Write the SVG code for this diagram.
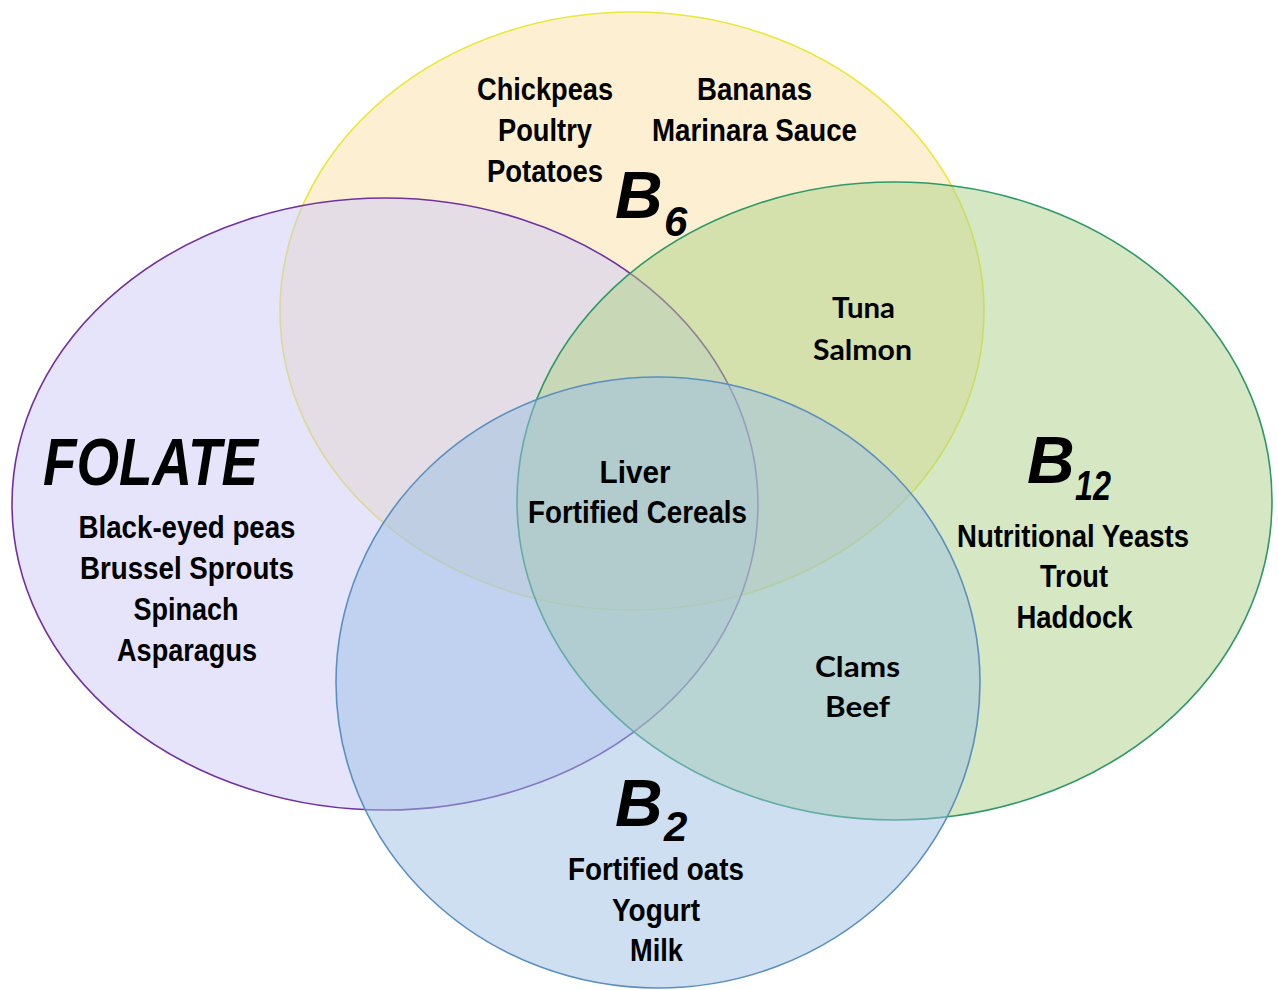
<svg xmlns="http://www.w3.org/2000/svg" width="1278" height="990" viewBox="0 0 1278 990">
<style>
.set { fill-opacity: 0.5; stroke-width: 1.6; }
.lbl { font-family: "Liberation Sans", Arial, sans-serif; font-weight: bold; font-size: 32px; fill: #000; text-anchor: middle; }
.cal { font-family: Lato, "Open Sans", sans-serif; font-weight: bold; font-size: 29px; fill: #000; text-anchor: middle; }
.big { font-family: "Liberation Sans", Arial, sans-serif; font-weight: bold; font-style: italic; font-size: 66px; fill: #000; }
.sub { font-family: "Liberation Sans", Arial, sans-serif; font-weight: bold; font-style: italic; font-size: 42px; fill: #000; }
</style>
<rect width="1278" height="990" fill="#ffffff"/>
<g id="node-b6">
  <ellipse class="set" cx="632" cy="311" rx="352" ry="299" fill="#fbe1a5" stroke="#e8e83c"/>
</g>
<g id="node-folate">
  <ellipse class="set" cx="385" cy="504" rx="373" ry="306" fill="#cbc9f7" stroke="#7030a0"/>
</g>
<g id="node-b12">
  <ellipse class="set" cx="894.5" cy="501" rx="377.5" ry="319" fill="#abd187" stroke="#2e9966"/>
</g>
<g id="node-b2">
  <ellipse class="set" cx="658" cy="682.5" rx="322" ry="305.5" fill="#9bbfe3" stroke="#5b8fbf"/>
</g>
<g id="labels-b6">
  <text class="lbl" x="545" y="100" textLength="136" lengthAdjust="spacingAndGlyphs">Chickpeas</text>
  <text class="lbl" x="545" y="141" textLength="94" lengthAdjust="spacingAndGlyphs">Poultry</text>
  <text class="lbl" x="545" y="182" textLength="116" lengthAdjust="spacingAndGlyphs">Potatoes</text>
  <text class="lbl" x="754.5" y="100" textLength="115" lengthAdjust="spacingAndGlyphs">Bananas</text>
  <text class="lbl" x="754.5" y="141" textLength="205" lengthAdjust="spacingAndGlyphs">Marinara Sauce</text>
  <text class="big" x="615" y="218">B</text>
  <text class="sub" x="664" y="236">6</text>
</g>
<g id="labels-folate">
  <text class="big" x="43" y="485" textLength="215" lengthAdjust="spacingAndGlyphs">FOLATE</text>
  <text class="lbl" x="187" y="538" textLength="217" lengthAdjust="spacingAndGlyphs">Black-eyed peas</text>
  <text class="lbl" x="187" y="579" textLength="214" lengthAdjust="spacingAndGlyphs">Brussel Sprouts</text>
  <text class="lbl" x="186" y="620" textLength="105" lengthAdjust="spacingAndGlyphs">Spinach</text>
  <text class="lbl" x="187" y="661" textLength="140" lengthAdjust="spacingAndGlyphs">Asparagus</text>
</g>
<g id="labels-b12">
  <text class="big" x="1027" y="483">B</text>
  <text class="sub" x="1075" y="500" textLength="36" lengthAdjust="spacingAndGlyphs">12</text>
  <text class="lbl" x="1073" y="547" textLength="232" lengthAdjust="spacingAndGlyphs">Nutritional Yeasts</text>
  <text class="lbl" x="1074" y="587" textLength="68" lengthAdjust="spacingAndGlyphs">Trout</text>
  <text class="lbl" x="1074.5" y="628" textLength="116" lengthAdjust="spacingAndGlyphs">Haddock</text>
</g>
<g id="labels-b2">
  <text class="big" x="615" y="826">B</text>
  <text class="sub" x="664" y="841">2</text>
  <text class="lbl" x="656" y="880" textLength="176" lengthAdjust="spacingAndGlyphs">Fortified oats</text>
  <text class="lbl" x="656" y="921" textLength="88" lengthAdjust="spacingAndGlyphs">Yogurt</text>
  <text class="lbl" x="656.5" y="961" textLength="53" lengthAdjust="spacingAndGlyphs">Milk</text>
</g>
<g id="overlap-b6-b12">
  <text class="cal" x="863.5" y="318" textLength="63" lengthAdjust="spacingAndGlyphs">Tuna</text>
  <text class="cal" x="862.5" y="360" textLength="99" lengthAdjust="spacingAndGlyphs">Salmon</text>
</g>
<g id="overlap-all">
  <text class="lbl" x="635" y="483" textLength="71" lengthAdjust="spacingAndGlyphs">Liver</text>
  <text class="lbl" x="637.5" y="523" textLength="219" lengthAdjust="spacingAndGlyphs">Fortified Cereals</text>
</g>
<g id="overlap-b12-b2">
  <text class="cal" x="857.5" y="677" textLength="85" lengthAdjust="spacingAndGlyphs">Clams</text>
  <text class="cal" x="857.5" y="717" textLength="65" lengthAdjust="spacingAndGlyphs">Beef</text>
</g>
</svg>
